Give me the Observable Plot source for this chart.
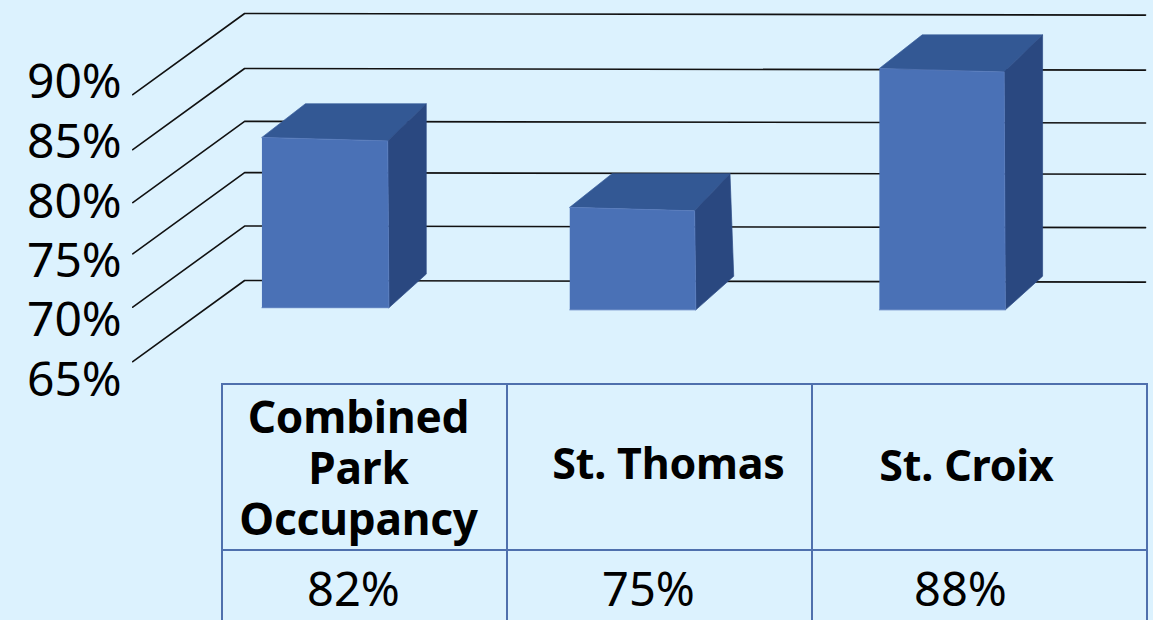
<!DOCTYPE html>
<html>
<head>
<meta charset="utf-8">
<script src="https://cdn.jsdelivr.net/npm/d3@7"></script>
<script src="https://cdn.jsdelivr.net/npm/@observablehq/plot@0.6"></script>
<style>
  html, body { margin: 0; padding: 0; background: #dcf2fe; width: 1153px; height: 620px; overflow: hidden; }
  #page { position: relative; width: 1153px; height: 620px; overflow: hidden; font-family: "Noto Sans", sans-serif; }
  svg { display: block; }
  table { position: absolute; left: 221px; top: 383px; border-collapse: collapse; table-layout: fixed; width: 925px; color: #000; }
  td { border: 2px solid #4f70ad; text-align: center; padding: 0; }
  tr:first-child td { height: 164px; font-weight: 700; font-size: 43px; line-height: 51px; letter-spacing: -0.2px; }
  tr:first-child td:first-child { font-size: 44.2px; }
  tr:last-child td { height: 60px; padding-top: 9px; font-size: 47px; line-height: 56px; vertical-align: top; border-bottom: none; }
</style>
</head>
<body>
<div id="page"></div>
<script>
// Chart values
const categories = ["Combined Park Occupancy", "St. Thomas", "St. Croix"];
const tableHeaders = [["Combined", "Park", "Occupancy"], ["St. Thomas"], ["St. Croix"]];
const shownValues = ["82%", "75%", "88%"];
const barHeights = [81.55, 75, 88];           // drawn height of each bar, read against the back wall
const barBases = [65.6, 65.4, 65.4];
const barLean = [0, -0.012, 0];               // the source's back-top corner leans slightly on St. Thomas
const tickLabels = ["90%", "85%", "80%", "75%", "70%", "65%"];
const wallLevels = [90, 84.85, 79.9, 75.1, 70.1, 65];   // where each gridline meets the back wall
const labelLevels = [83.5, 77.9, 72.3, 66.8, 61.2, 55.6]; // labels sit on their own spacing in the source

// Oblique projection, in scale units
const floorRise = 7.6;     // value-units a gridline drops from wall to front
const barFrontDrop = 3.15; // value-units the bar's front face sits below its back edge
const frontSag = 0.33;     // front top edge sags toward the right
const gridFrontX = -0.615, gridWallX = -0.26, gridEndX = 2.663;
const faceLeft = 0.205, faceRight = 0.204, backLeft = -0.067, backRight = 0.326;

const grid = wallLevels.flatMap((level, i) => [
  {id: i, x: gridFrontX, y: level - floorRise},
  {id: i, x: gridWallX, y: level},
  {id: i, x: gridEndX, y: level - 0.15}
]);

const frontFace = [], topFace = [], sideFace = [];
categories.forEach((c, i) => {
  const v = barHeights[i], b = barBases[i];
  frontFace.push(
    {id: c, x: i - faceLeft, y: v - barFrontDrop},
    {id: c, x: i + faceRight - 0.004, y: v - barFrontDrop - frontSag},
    {id: c, x: i + faceRight, y: b - barFrontDrop},
    {id: c, x: i - faceLeft, y: b - barFrontDrop}
  );
  topFace.push(
    {id: c, x: i - faceLeft, y: v - barFrontDrop},
    {id: c, x: i + backLeft, y: v},
    {id: c, x: i + backRight + barLean[i], y: v},
    {id: c, x: i + faceRight - 0.004, y: v - barFrontDrop - frontSag}
  );
  sideFace.push(
    {id: c, x: i + faceRight - 0.004, y: v - barFrontDrop - frontSag},
    {id: c, x: i + backRight + barLean[i], y: v},
    {id: c, x: i + backRight, y: b},
    {id: c, x: i + faceRight, y: b - barFrontDrop}
  );
});

const chart = Plot.plot({
  width: 1153,
  height: 420,
  margin: 0,
  style: {background: "transparent", fontFamily: "'Noto Sans', sans-serif"},
  x: {type: "linear", axis: null, domain: [-1, 0, 1, 2, 3], range: [11, 326, 632, 942.5, 1248]},
  y: {type: "linear", axis: null, domain: [65, 90], range: [280, 13]},
  marks: [
    Plot.line(grid, {x: "x", y: "y", z: "id", stroke: "#111", strokeWidth: 1.6}),
    Plot.line(topFace, {x: "x", y: "y", z: "id", fill: "#335894", stroke: "#3a5f9c", strokeWidth: 0.7}),
    Plot.line(sideFace, {x: "x", y: "y", z: "id", fill: "#2a4880", stroke: "#2d4c86", strokeWidth: 0.7}),
    Plot.line(frontFace, {x: "x", y: "y", z: "id", fill: "#4a71b6", stroke: "#5679bb", strokeWidth: 0.8}),
    Plot.text(tickLabels, {
      x: () => gridFrontX - 0.035,
      y: (d, i) => labelLevels[i],
      text: d => d,
      textAnchor: "end",
      lineAnchor: "middle",
      fontSize: 48,
      fill: "#000"
    })
  ]
});

const page = document.getElementById("page");
page.appendChild(chart);

const table = document.createElement("table");
table.innerHTML = `
  <colgroup><col style="width:285px"><col style="width:305px"><col style="width:335px"></colgroup>
  <tr>${tableHeaders.map((lines, i) => `<td><div class="h${i}">${lines.join("<br>")}</div></td>`).join("")}</tr>
  <tr>${shownValues.map((v, i) => `<td><div class="v${i}">${v}</div></td>`).join("")}</tr>`;
page.appendChild(table);
const shift = (sel, dx, dy) => { table.querySelector(sel).style.transform = `translate(${dx}px,${dy}px)`; };
shift(".h0", -6, 0); shift(".h1", 9, -5); shift(".h2", -13, -3);
shift(".v0", -11, 0); shift(".v1", -11, 0); shift(".v2", -19, 0);
</script>
</body>
</html>
